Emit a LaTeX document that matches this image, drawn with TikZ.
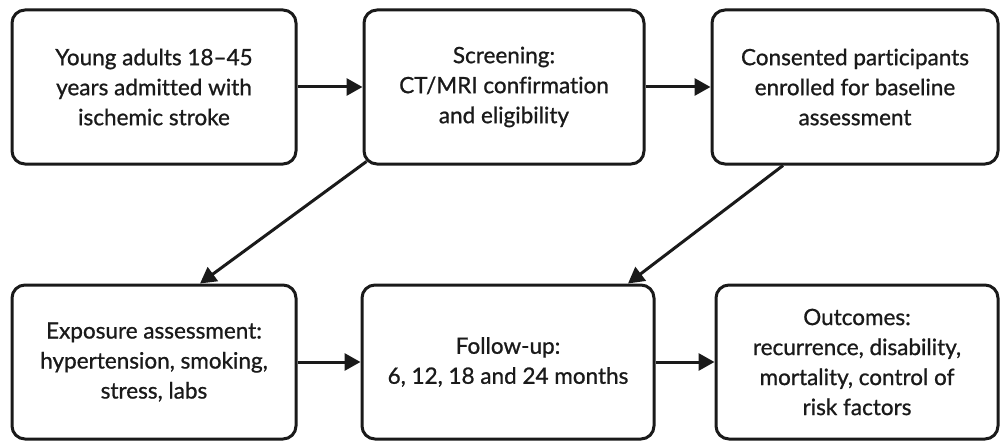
\documentclass[tikz,border=0pt]{standalone}
\usepackage{fontspec}
\setmainfont{Lato}[FakeBold=0.9,Ligatures=NoCommon]
\usetikzlibrary{arrows.meta}
\definecolor{ink}{HTML}{1A1A1A}
\begin{document}
\begin{tikzpicture}[x=1pt,y=-1pt,
  box/.style={draw=ink, line width=3pt, rounded corners=13pt, fill=white,
    align=center, text=ink, font=\fontsize{22.5}{30}\selectfont,
    minimum height=154pt, inner sep=0pt},
  conn/.style={draw=ink, line width=3pt, -{Triangle[length=16pt,width=17pt]}}]
\useasboundingbox[fill=white] (0,0) rectangle (1001,441);
\node[box, minimum width=284pt] (b1) at (154,87) {Young adults 18–45\\years admitted with\\ischemic stroke};
\node[box, minimum width=280pt] (b2) at (504,87) {Screening:\\CT/MRI confirmation\\and eligibility};
\node[box, minimum width=286pt] (b3) at (855,87) {Consented participants\\enrolled for baseline\\assessment};
\node[box, minimum width=284pt] (b4) at (154,362) {Exposure assessment:\\hypertension, smoking,\\stress, labs};
\node[box, minimum width=292pt] (b5) at (508,362) {Follow-up:\\6, 12, 18 and 24 months};
\node[box, minimum width=282pt] (b6) at (857,362) {Outcomes:\\recurrence, disability,\\mortality, control of\\risk factors};
\draw[conn] (b1) -- (b2);
\draw[conn] (b2) -- (b3);
\draw[conn] (b4) -- (b5);
\draw[conn] (b5) -- (b6);
\draw[conn] ([xshift=4pt,yshift=4pt]b2.south west) -- ([xshift=46pt]b4.north);
\draw[conn] ([xshift=-72pt]b3.south) -- ([xshift=120pt]b5.north);
\end{tikzpicture}
\end{document}
